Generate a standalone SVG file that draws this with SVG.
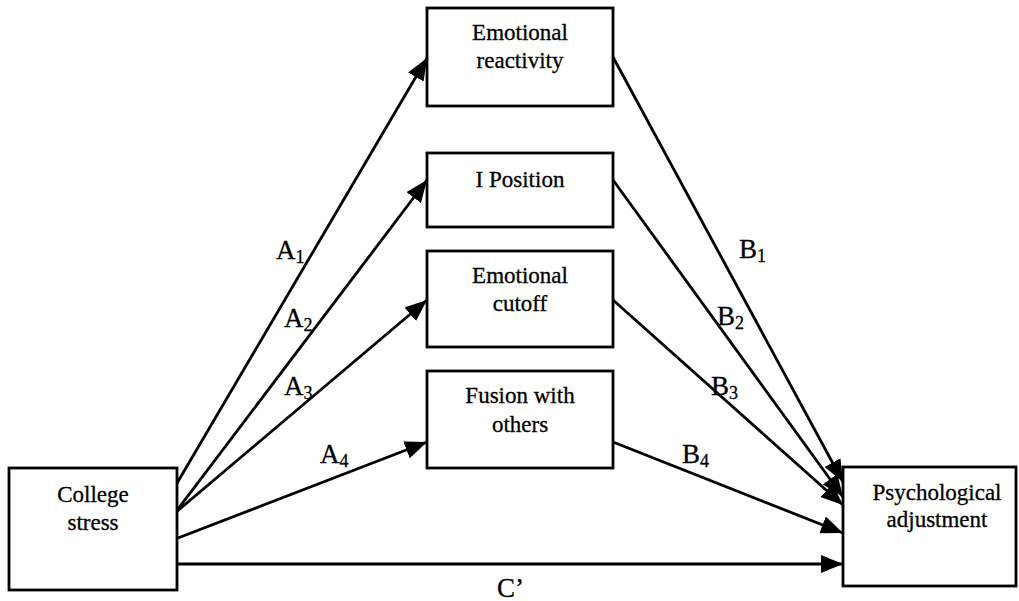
<svg xmlns="http://www.w3.org/2000/svg" width="1019" height="601" viewBox="0 0 1019 601">
<style>
  .box { fill: #fff; stroke: #000; stroke-width: 2.8; }
  .t { font-family: "Liberation Serif", "Times New Roman", serif; font-size: 23px; fill: #000; text-anchor: middle; stroke: #000; stroke-width: 0.3; }
  .lbl { font-family: "Liberation Serif", "Times New Roman", serif; font-size: 27px; fill: #000; stroke: #000; stroke-width: 0.3; }
  .sub { font-size: 18px; }
  .edge { stroke: #000; stroke-width: 2.8; fill: none; marker-end: url(#arr); }
</style>
<defs>
  <marker id="arr" markerUnits="userSpaceOnUse" markerWidth="22" markerHeight="18" viewBox="0 0 22 18" refX="22" refY="9" orient="auto">
    <path d="M0,0 L22,9 L0,18 Z" fill="#000"/>
  </marker>
</defs>
<rect width="1019" height="601" fill="#fff"/>
<g id="connectors">
  <line class="edge" x1="173" y1="490" x2="427" y2="58"/>
  <line class="edge" x1="175" y1="513" x2="427" y2="180"/>
  <line class="edge" x1="175" y1="513" x2="427" y2="300"/>
  <line class="edge" x1="178" y1="538" x2="427" y2="442"/>
  <line class="edge" x1="613" y1="57" x2="843" y2="482"/>
  <line class="edge" x1="613" y1="180" x2="843" y2="497"/>
  <line class="edge" x1="613" y1="300" x2="843" y2="505"/>
  <line class="edge" x1="613" y1="442" x2="843" y2="533"/>
  <line class="edge" x1="171" y1="564" x2="843" y2="564"/>
  <text class="lbl" x="276" y="259">A<tspan class="sub" dy="4">1</tspan></text>
  <text class="lbl" x="284" y="327">A<tspan class="sub" dy="4">2</tspan></text>
  <text class="lbl" x="284" y="395">A<tspan class="sub" dy="4">3</tspan></text>
  <text class="lbl" x="320" y="463">A<tspan class="sub" dy="4">4</tspan></text>
  <text class="lbl" x="739" y="258">B<tspan class="sub" dy="4">1</tspan></text>
  <text class="lbl" x="717" y="325">B<tspan class="sub" dy="4">2</tspan></text>
  <text class="lbl" x="711" y="395">B<tspan class="sub" dy="4">3</tspan></text>
  <text class="lbl" x="682" y="463">B<tspan class="sub" dy="4">4</tspan></text>
  <text class="lbl" x="497" y="597">C’</text>
</g>
<g id="college-stress">
  <rect class="box" x="9" y="468" width="168" height="122"/>
  <text class="t" x="93" y="502">College</text>
  <text class="t" x="93" y="530">stress</text>
</g>
<g id="emotional-reactivity">
  <rect class="box" x="427" y="8" width="186" height="98"/>
  <text class="t" x="520" y="40">Emotional</text>
  <text class="t" x="520" y="68">reactivity</text>
</g>
<g id="i-position">
  <rect class="box" x="427" y="153" width="186" height="74"/>
  <text class="t" x="520" y="187">I Position</text>
</g>
<g id="emotional-cutoff">
  <rect class="box" x="427" y="251" width="186" height="96"/>
  <text class="t" x="520" y="283">Emotional</text>
  <text class="t" x="520" y="311">cutoff</text>
</g>
<g id="fusion-with-others">
  <rect class="box" x="427" y="371" width="186" height="97"/>
  <text class="t" x="520" y="403">Fusion with</text>
  <text class="t" x="520" y="432">others</text>
</g>
<g id="psychological-adjustment">
  <rect class="box" x="843" y="467" width="173" height="119"/>
  <text class="t" x="937" y="500">Psychological</text>
  <text class="t" x="937" y="527">adjustment</text>
</g>
</svg>
